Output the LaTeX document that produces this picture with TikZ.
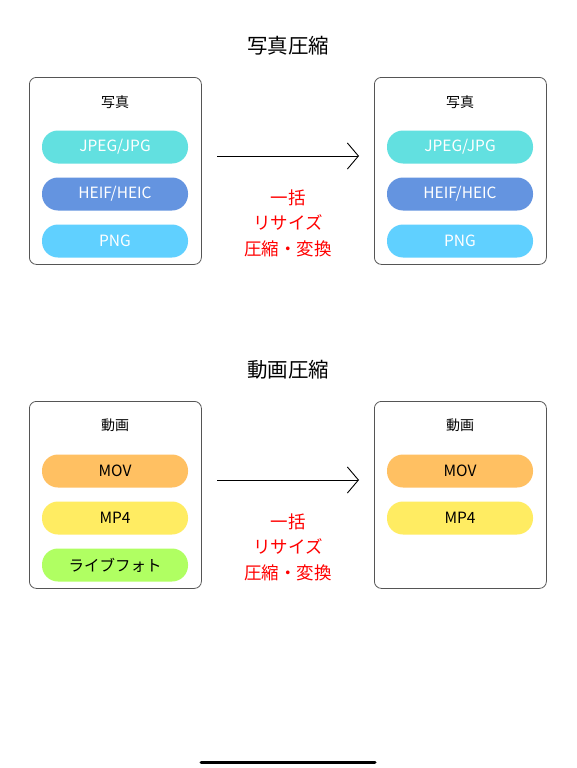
\documentclass[tikz,border=0pt]{standalone}
\usepackage{fontspec}
\usetikzlibrary{arrows.meta}
\setmainfont{Noto Sans CJK JP}
\definecolor{cJPG}{HTML}{62E0E0}
\definecolor{cHEIF}{HTML}{6494E0}
\definecolor{cPNG}{HTML}{60D0FF}
\definecolor{cMOV}{HTML}{FFC062}
\definecolor{cMP4}{HTML}{FFEC62}
\definecolor{cLIVE}{HTML}{B0FF62}
\definecolor{boxline}{HTML}{555555}
\begin{document}
\begin{tikzpicture}[x=1pt,y=-1pt,
  panel/.style={draw=boxline,line width=0.8pt,rounded corners=7pt,minimum width=172pt,minimum height=187pt,anchor=north west,inner sep=0pt},
  pill/.style={rounded corners=16pt,minimum width=146pt,minimum height=33pt,inner sep=0pt,font=\fontsize{15.5}{17}\selectfont,yshift=0pt},
  wpill/.style={pill,text=white},
  bpill/.style={pill,text=black},
  title/.style={font=\fontsize{20.5}{24}\selectfont},
  lab/.style={font=\fontsize{14}{16}\selectfont},
  red/.style={text=red,font=\fontsize{17.5}{25.5}\selectfont,align=center},
  arr/.style={line width=0.9pt,-{Straight Barb[length=11pt,width=26pt]}}
]
\useasboundingbox (0,0) rectangle (576,768);
\fill[white] (0,0) rectangle (576,768);
% --- photos
\node[title] (t1) at (288,46) {写真圧縮};
\node[panel] (b1) at (29,77) {};
\node[panel] (b2) at (374,77) {};
\node[lab] (l1) at (115,102) {写真};
\node[lab] (l2) at (460,102) {写真};
\node[wpill,fill=cJPG] (p1a) at (115,147) {JPEG/JPG};
\node[wpill,fill=cHEIF] (p1b) at (115,194) {HEIF/HEIC};
\node[wpill,fill=cPNG] (p1c) at (115,241) {PNG};
\node[wpill,fill=cJPG] (p2a) at (460,147) {JPEG/JPG};
\node[wpill,fill=cHEIF] (p2b) at (460,194) {HEIF/HEIC};
\node[wpill,fill=cPNG] (p2c) at (460,241) {PNG};
\coordinate (a1s) at (217,156);
\coordinate (a1e) at (359,156);
\draw[arr] (a1s) -- (a1e);
\node[red] (r1) at (288,223) {一括\\リサイズ\\圧縮・変換};
% --- videos
\node[title] (t2) at (288,370) {動画圧縮};
\node[panel] (b3) at (29,401) {};
\node[panel] (b4) at (374,401) {};
\node[lab] (l3) at (115,425) {動画};
\node[lab] (l4) at (460,425) {動画};
\node[bpill,fill=cMOV] (p3a) at (115,471) {MOV};
\node[bpill,fill=cMP4] (p3b) at (115,518) {MP4};
\node[bpill,fill=cLIVE] (p3c) at (115,565) {ライブフォト};
\node[bpill,fill=cMOV] (p4a) at (460,471) {MOV};
\node[bpill,fill=cMP4] (p4b) at (460,518) {MP4};
\coordinate (a2s) at (217,480);
\coordinate (a2e) at (359,480);
\draw[arr] (a2s) -- (a2e);
\node[red] (r2) at (288,547) {一括\\リサイズ\\圧縮・変換};
% home indicator
\coordinate (h1) at (201,762);
\coordinate (h2) at (375,762);
\draw[line width=3pt,line cap=round] (h1) -- (h2);
\end{tikzpicture}
\end{document}
